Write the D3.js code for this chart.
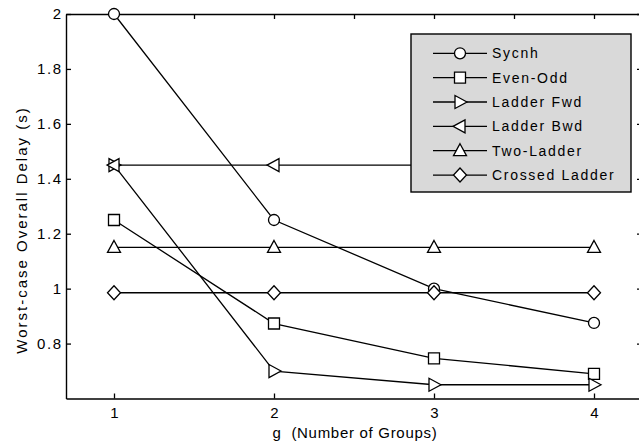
<!DOCTYPE html>
<html>
<head>
<meta charset="utf-8">
<script src="https://cdn.jsdelivr.net/npm/d3@7"></script>
<style>
html,body{margin:0;padding:0;background:#fff;}
svg{display:block;font-family:"Liberation Sans",Arial,sans-serif;}
</style>
</head>
<body>
<svg id="chart" width="639" height="447"></svg>
<script>
const groups = [1, 2, 3, 4];
const seriesNames = ["Sycnh", "Even-Odd", "Ladder Fwd", "Ladder Bwd", "Two-Ladder", "Crossed Ladder"];
const sycnh = [2.0, 1.25, 1.0, 0.875];
const evenOdd = [1.25, 0.873, 0.746, 0.69];
const ladderFwd = [1.45, 0.70, 0.65, 0.65];
const ladderBwd = [1.45, 1.45, 1.45, 1.45];
const twoLadder = [1.15, 1.15, 1.15, 1.15];
const crossedLadder = [0.985, 0.985, 0.985, 0.985];
const yTicks = [0.8, 1, 1.2, 1.4, 1.6, 1.8, 2];
const xTicks = [1, 2, 3, 4];
const topTicks = [1, 1.5, 2, 2.5, 3, 3.5, 4];
const markerTypes = ["circle", "square", "triRight", "triLeft", "triUp", "diamond"];
const seriesValues = [sycnh, evenOdd, ladderFwd, ladderBwd, twoLadder, crossedLadder];

const svg = d3.select("#chart");
const L = 66, R = 642, T = 14, B = 398.5;
const x = d3.scaleLinear().domain([0.7, 4.3]).range([L, R]);
const y = d3.scaleLinear().domain([0.6, 2]).range([B, T]);

function markerPath(type, cx, cy) {
  const p = d3.path();
  if (type === "circle") { p.moveTo(cx + 5.5, cy); p.arc(cx, cy, 5.5, 0, 2 * Math.PI); }
  else if (type === "square") { p.rect(cx - 5.5, cy - 5.5, 11, 11); }
  else if (type === "triRight") { p.moveTo(cx + 7, cy); p.lineTo(cx - 5, cy - 6.5); p.lineTo(cx - 5, cy + 6.5); p.closePath(); }
  else if (type === "triLeft") { p.moveTo(cx - 7, cy); p.lineTo(cx + 5, cy - 6.5); p.lineTo(cx + 5, cy + 6.5); p.closePath(); }
  else if (type === "triUp") { p.moveTo(cx, cy - 7); p.lineTo(cx + 6.5, cy + 5); p.lineTo(cx - 6.5, cy + 5); p.closePath(); }
  else if (type === "diamond") { p.moveTo(cx, cy - 7); p.lineTo(cx + 6.5, cy); p.lineTo(cx, cy + 7); p.lineTo(cx - 6.5, cy); p.closePath(); }
  return p.toString();
}

// axes
const axisStyle = g => {
  g.select(".domain").attr("stroke", "#000").attr("stroke-width", 1.4);
  g.selectAll(".tick line").attr("stroke", "#000").attr("stroke-width", 1.3);
  g.selectAll(".tick text").attr("fill", "#000").attr("font-size", 15)
    .attr("font-family", "'Liberation Sans', Arial, sans-serif");
};
svg.append("g").attr("transform", `translate(0,${B})`)
  .call(d3.axisBottom(x).tickValues(xTicks).tickFormat(d3.format("d")).tickSize(-5).tickSizeOuter(0).tickPadding(9))
  .call(axisStyle);
svg.append("g").attr("transform", `translate(${L},0)`)
  .call(d3.axisLeft(y).tickValues(yTicks).tickFormat(d => String(d)).tickSize(-5).tickSizeOuter(0).tickPadding(5))
  .call(axisStyle)
  .call(g => g.selectAll(".tick text").attr("letter-spacing", 1.6).attr("dx", 1.6));
svg.append("g").attr("transform", `translate(0,${T})`)
  .call(d3.axisTop(x).tickValues(topTicks).tickFormat("").tickSize(-5).tickSizeOuter(0))
  .call(axisStyle);
svg.append("g").attr("transform", `translate(${R},0)`)
  .call(d3.axisRight(y).tickValues(yTicks).tickFormat("").tickSize(-5).tickSizeOuter(0))
  .call(axisStyle);

// axis labels
svg.append("text").attr("x", 355).attr("y", 437.5).attr("text-anchor", "middle")
  .attr("font-size", 15).attr("letter-spacing", 0.7).attr("fill", "#000")
  .attr("xml:space", "preserve").style("white-space", "pre")
  .text("g  (Number of Groups)");
svg.append("text").attr("transform", "translate(27,230) rotate(-90)").attr("text-anchor", "middle")
  .attr("font-size", 15).attr("letter-spacing", 2).attr("fill", "#000")
  .text("Worst-case Overall Delay (s)");

// series
const line = d3.line().x((d, i) => x(groups[i])).y(d => y(d));
seriesValues.forEach((vals, si) => {
  const g = svg.append("g");
  g.append("path").attr("d", line(vals)).attr("fill", "none").attr("stroke", "#000").attr("stroke-width", 1.3);
  g.selectAll("path.m").data(vals).enter().append("path").attr("class", "m")
    .attr("d", (d, i) => markerPath(markerTypes[si], x(groups[i]), y(d)))
    .attr("fill", "#fff").attr("stroke", "#000").attr("stroke-width", 1.3);
});

// legend
const lg = svg.append("g");
lg.append("rect").attr("x", 411).attr("y", 34).attr("width", 220).attr("height", 158)
  .attr("fill", "#d9d9d9").attr("stroke", "#000").attr("stroke-width", 1.4);
seriesNames.forEach((name, i) => {
  const ly = 53.3 + i * 24.35;
  lg.append("line").attr("x1", 433).attr("x2", 487).attr("y1", ly).attr("y2", ly)
    .attr("stroke", "#000").attr("stroke-width", 1.3);
  lg.append("path").attr("d", markerPath(markerTypes[i], 460, ly))
    .attr("fill", "#fff").attr("stroke", "#000").attr("stroke-width", 1.3);
  lg.append("text").attr("x", 492).attr("y", ly).attr("dy", "0.36em")
    .attr("font-size", 14).attr("letter-spacing", 1.7).attr("fill", "#000").text(name);
});
</script>
</body>
</html>
